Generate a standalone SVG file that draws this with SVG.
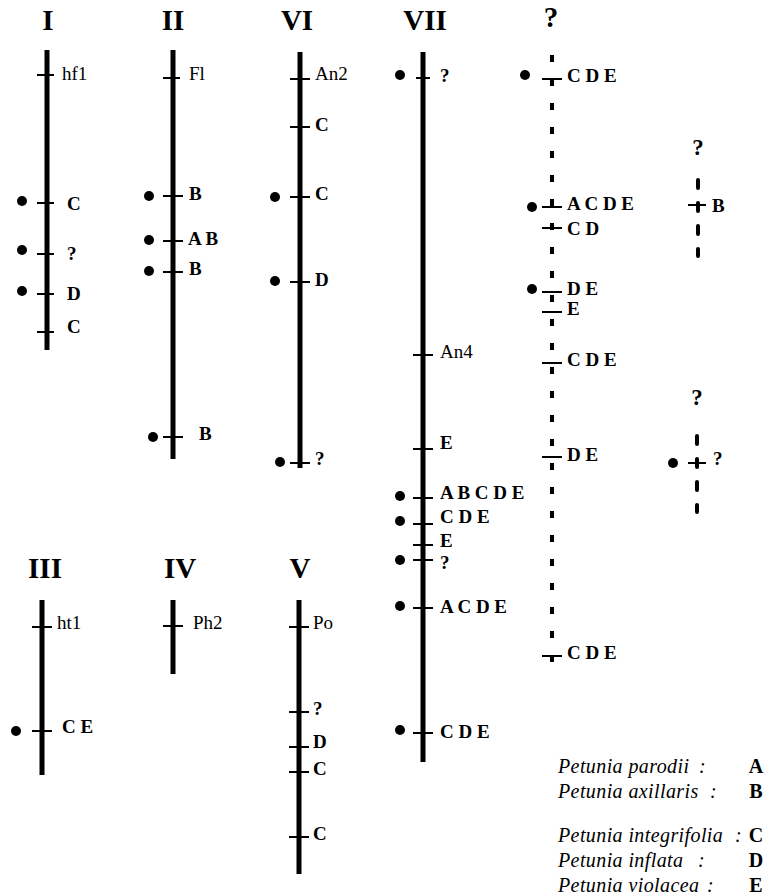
<svg xmlns="http://www.w3.org/2000/svg" width="777" height="895" viewBox="0 0 777 895">
<style>
.chr{stroke:#000;stroke-width:5;fill:none}
.dash{stroke:#000;stroke-width:4;fill:none;stroke-dasharray:7 17}
.sdash{stroke:#000;stroke-width:4;fill:none;stroke-dasharray:8 15;stroke-linecap:round}
.tk{stroke:#000;stroke-width:2}
.dot{fill:#000}
.title{font-family:"Liberation Serif",serif;font-weight:bold;font-size:29px;text-anchor:middle}
.sq{font-family:"Liberation Serif",serif;font-weight:bold;font-size:23px;text-anchor:middle}
.lb{font-family:"Liberation Serif",serif;font-weight:bold;font-size:19px}
.gn{font-family:"Liberation Serif",serif;font-size:19px}
.lg{font-family:"Liberation Serif",serif;font-style:italic;font-size:20px;letter-spacing:0.4px}
.lgl{font-family:"Liberation Serif",serif;font-weight:bold;font-size:20px;text-anchor:middle}
</style>
<rect width="777" height="895" fill="#fff"/>

<g id="chrI">
<text class="title" x="48" y="30">I</text>
<line class="chr" x1="47" y1="50" x2="47" y2="350"/>
<line class="tk" x1="37" y1="75" x2="54" y2="75"/><text class="gn" x="62" y="80">hf1</text>
<line class="tk" x1="37" y1="203" x2="54" y2="203"/><circle class="dot" cx="22" cy="201" r="5"/><text class="lb" x="67" y="210">C</text>
<line class="tk" x1="37" y1="254" x2="54" y2="254"/><circle class="dot" cx="22" cy="250" r="5"/><text class="lb" x="67" y="260">?</text>
<line class="tk" x1="37" y1="294" x2="54" y2="294"/><circle class="dot" cx="22" cy="291" r="5"/><text class="lb" x="67" y="300">D</text>
<line class="tk" x1="37" y1="332" x2="54" y2="332"/><text class="lb" x="67" y="333">C</text>
</g>

<g id="chrII">
<text class="title" x="173" y="30">II</text>
<line class="chr" x1="173" y1="50" x2="173" y2="459"/>
<line class="tk" x1="163" y1="78" x2="180" y2="78"/><text class="gn" x="189" y="80">Fl</text>
<line class="tk" x1="163" y1="196" x2="183" y2="196"/><circle class="dot" cx="149" cy="196" r="5"/><text class="lb" x="189" y="200">B</text>
<line class="tk" x1="163" y1="241" x2="183" y2="241"/><circle class="dot" cx="149" cy="240" r="5"/><text class="lb" x="188" y="245">A B</text>
<line class="tk" x1="163" y1="272" x2="183" y2="272"/><circle class="dot" cx="149" cy="271" r="5"/><text class="lb" x="189" y="275">B</text>
<line class="tk" x1="163" y1="437" x2="183" y2="437"/><circle class="dot" cx="153" cy="437" r="5"/><text class="lb" x="199" y="440">B</text>
</g>

<g id="chrVI">
<text class="title" x="297" y="30">VI</text>
<line class="chr" x1="300" y1="52" x2="300" y2="468"/>
<line class="tk" x1="290" y1="79" x2="310" y2="79"/><text class="gn" x="315" y="80">An2</text>
<line class="tk" x1="290" y1="127" x2="310" y2="127"/><text class="lb" x="315" y="131">C</text>
<line class="tk" x1="290" y1="197" x2="310" y2="197"/><circle class="dot" cx="275" cy="197" r="5"/><text class="lb" x="315" y="200">C</text>
<line class="tk" x1="290" y1="282" x2="310" y2="282"/><circle class="dot" cx="275" cy="281" r="5"/><text class="lb" x="315" y="286">D</text>
<line class="tk" x1="290" y1="463" x2="310" y2="463"/><circle class="dot" cx="280" cy="462" r="5"/><text class="lb" x="315" y="465">?</text>
</g>

<g id="chrVII">
<text class="title" x="425" y="30">VII</text>
<line class="chr" x1="423" y1="52" x2="423" y2="762"/>
<line class="tk" x1="416" y1="78" x2="430" y2="78"/><circle class="dot" cx="400" cy="75" r="5"/><text class="lb" x="440" y="82">?</text>
<line class="tk" x1="413" y1="355" x2="433" y2="355"/><text class="gn" x="440" y="358">An4</text>
<line class="tk" x1="413" y1="449" x2="433" y2="449"/><text class="lb" x="440" y="449">E</text>
<line class="tk" x1="413" y1="498" x2="433" y2="498"/><circle class="dot" cx="400" cy="496" r="5"/><text class="lb" x="440" y="499">A B C D E</text>
<line class="tk" x1="413" y1="524" x2="433" y2="524"/><circle class="dot" cx="400" cy="521" r="5"/><text class="lb" x="440" y="523">C D E</text>
<line class="tk" x1="413" y1="545" x2="433" y2="545"/><text class="lb" x="440" y="547">E</text>
<line class="tk" x1="413" y1="560" x2="433" y2="560"/><circle class="dot" cx="400" cy="560" r="5"/><text class="lb" x="440" y="569">?</text>
<line class="tk" x1="413" y1="608" x2="433" y2="608"/><circle class="dot" cx="400" cy="606" r="5"/><text class="lb" x="440" y="613">A C D E</text>
<line class="tk" x1="413" y1="733" x2="433" y2="733"/><circle class="dot" cx="400" cy="730" r="5"/><text class="lb" x="440" y="738">C D E</text>
</g>

<g id="chrQ1">
<text class="title" x="551" y="27">?</text>
<line class="dash" x1="552" y1="55" x2="552" y2="662"/>
<line class="tk" x1="542" y1="79" x2="562" y2="79"/><circle class="dot" cx="525" cy="75" r="5"/><text class="lb" x="567" y="82">C D E</text>
<line class="tk" x1="542" y1="207" x2="562" y2="207"/><circle class="dot" cx="532" cy="207" r="5"/><text class="lb" x="567" y="210">A C D E</text>
<line class="tk" x1="542" y1="228" x2="562" y2="228"/><text class="lb" x="567" y="235">C D</text>
<line class="tk" x1="542" y1="292" x2="562" y2="292"/><circle class="dot" cx="532" cy="289" r="5"/><text class="lb" x="567" y="295">D E</text>
<line class="tk" x1="542" y1="312" x2="562" y2="312"/><text class="lb" x="567" y="315">E</text>
<line class="tk" x1="542" y1="363" x2="562" y2="363"/><text class="lb" x="567" y="366">C D E</text>
<line class="tk" x1="542" y1="457" x2="562" y2="457"/><text class="lb" x="567" y="461">D E</text>
<line class="tk" x1="542" y1="656" x2="562" y2="656"/><text class="lb" x="567" y="659">C D E</text>
</g>

<g id="chrQ2">
<text class="sq" x="698" y="155">?</text>
<line class="sdash" x1="698" y1="180" x2="698" y2="256"/>
<line class="tk" x1="688" y1="205" x2="706" y2="205"/><text class="lb" x="712" y="212">B</text>
</g>

<g id="chrQ3">
<text class="sq" x="697" y="405">?</text>
<line class="sdash" x1="697" y1="436" x2="697" y2="512"/>
<line class="tk" x1="688" y1="463" x2="706" y2="463"/><circle class="dot" cx="673" cy="463" r="5"/><text class="lb" x="713" y="465">?</text>
</g>

<g id="chrIII">
<text class="title" x="45" y="578">III</text>
<line class="chr" x1="42" y1="600" x2="42" y2="775"/>
<line class="tk" x1="32" y1="627" x2="52" y2="627"/><text class="gn" x="57" y="629">ht1</text>
<line class="tk" x1="32" y1="731" x2="52" y2="731"/><circle class="dot" cx="16" cy="731" r="5"/><text class="lb" x="62" y="733">C E</text>
</g>

<g id="chrIV">
<text class="title" x="180" y="578">IV</text>
<line class="chr" x1="173" y1="600" x2="173" y2="674"/>
<line class="tk" x1="163" y1="626" x2="183" y2="626"/><text class="gn" x="193" y="629">Ph2</text>
</g>

<g id="chrV">
<text class="title" x="300" y="578">V</text>
<line class="chr" x1="299" y1="600" x2="299" y2="874"/>
<line class="tk" x1="289" y1="627" x2="309" y2="627"/><text class="gn" x="313" y="629">Po</text>
<line class="tk" x1="289" y1="712" x2="309" y2="712"/><text class="lb" x="313" y="715">?</text>
<line class="tk" x1="289" y1="747" x2="309" y2="747"/><text class="lb" x="313" y="748">D</text>
<line class="tk" x1="289" y1="772" x2="309" y2="772"/><text class="lb" x="313" y="775">C</text>
<line class="tk" x1="289" y1="837" x2="309" y2="837"/><text class="lb" x="313" y="840">C</text>
</g>

<g id="legend">
<text class="lg" x="558" y="773">Petunia parodii</text><text class="lg" x="699" y="773">:</text><text class="lgl" x="756" y="773">A</text>
<text class="lg" x="558" y="798">Petunia axillaris</text><text class="lg" x="710" y="798">:</text><text class="lgl" x="756" y="798">B</text>
<text class="lg" x="558" y="842">Petunia integrifolia</text><text class="lg" x="735" y="842">:</text><text class="lgl" x="756" y="842">C</text>
<text class="lg" x="558" y="867">Petunia inflata</text><text class="lg" x="698" y="867">:</text><text class="lgl" x="756" y="867">D</text>
<text class="lg" x="558" y="892">Petunia violacea</text><text class="lg" x="707" y="892">:</text><text class="lgl" x="756" y="892">E</text>
</g>
</svg>
